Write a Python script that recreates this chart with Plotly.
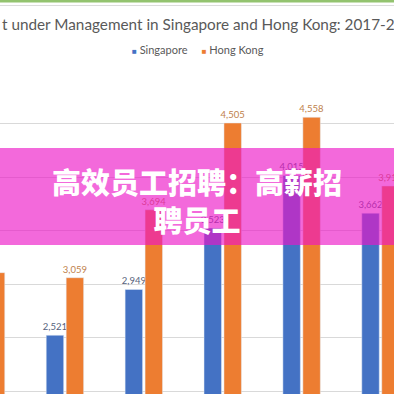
import plotly.graph_objects as go

# ---- data ----
categories = ["2017", "2018", "2019", "2020", "2021", "2022"]
singapore = [2350, 2521, 2949, 3523, 4015, 3662]
hong_kong = [3106, 3059, 3694, 4505, 4558, 3916]
series_names = ["Singapore", "Hong Kong"]
grid_values = [2000, 2500, 3000, 3500, 4000, 4500, 5000]
title_text = "t under Management in Singapore and Hong Kong: 2017-2"
banner_text = "高效员工招聘：高薪招<br>聘员工"

BLUE = "#4472C4"
ORANGE = "#ED7D31"

W, H = 394, 394
TOP, BOTTOM = 70, 0
PH = H - TOP - BOTTOM


def py(p):
    """pixel row (from top) -> paper y"""
    return (H - BOTTOM - p) / PH


fig = go.Figure()
fig.add_bar(x=categories, y=singapore, name=series_names[0], marker_color=BLUE,
            texttemplate="%{y:,}", textposition="outside", cliponaxis=False,
            textfont=dict(family="Lato", size=9.5, color="#56627c"),
            showlegend=False)
fig.add_bar(x=categories, y=hong_kong, name=series_names[1], marker_color=ORANGE,
            texttemplate="%{y:,}", textposition="outside", cliponaxis=False,
            textfont=dict(family="Lato", size=9.5, color="#c0814c"),
            showlegend=False)

fig.update_layout(
    width=W, height=H,
    margin=dict(l=0, r=0, t=TOP, b=BOTTOM, pad=0),
    paper_bgcolor="white", plot_bgcolor="white",
    barmode="group", bargap=0.494, bargroupgap=0.125,
    uniformtext=dict(minsize=9.5, mode="show"),
    xaxis=dict(type="category", categoryorder="array", categoryarray=categories,
               range=[0.177, 5.171], showticklabels=False, showgrid=False,
               zeroline=False, showline=False, ticks=""),
    yaxis=dict(range=[1972, 5000], tickvals=grid_values, showticklabels=False,
               gridcolor="#d9d9d9", gridwidth=1, zeroline=False, showline=False,
               ticks=""),
    font=dict(family="Lato", color="#595959"),
)

shapes = [
    dict(type="rect", xref="paper", yref="paper", x0=0, x1=1,
         y0=py(2.6), y1=py(0), fillcolor="#93c36f", line_width=0, layer="above"),
    dict(type="line", xref="paper", yref="paper", x0=0, x1=1,
         y0=py(5.5), y1=py(5.5), line=dict(color="#dcdcdc", width=1), layer="above"),
    dict(type="rect", xref="paper", yref="paper", x0=0, x1=1,
         y0=py(245), y1=py(148), fillcolor="rgba(237,21,198,0.64)",
         line_width=0, layer="above"),
]
fig.update_layout(shapes=shapes)

legend_text = (f"<span style='color:{BLUE};font-size:8px'>■</span> {series_names[0]}"
               f"     <span style='color:{ORANGE};font-size:8px'>■</span> {series_names[1]}")

fig.add_annotation(text=title_text, xref="paper", yref="paper", x=0, y=py(24),
                   xanchor="left", yanchor="middle", showarrow=False,
                   font=dict(family="Lato", size=15.3, color="#595959"))
fig.add_annotation(text=legend_text, xref="paper", yref="paper", x=0.502, y=py(50),
                   xanchor="center", yanchor="middle", showarrow=False,
                   font=dict(family="Lato", size=11, color="#595959"))
fig.add_annotation(text=banner_text, xref="paper", yref="paper", x=0.5, y=py(200),
                   xanchor="center", yanchor="middle", showarrow=False, align="center",
                   font=dict(family="Noto Sans CJK SC", size=29, color="white", weight=900))

fig.write_html("out.html",
               config={"displayModeBar": False},
               post_script="document.body.style.margin='0';"
                           "document.documentElement.style.overflow='hidden';"
                           "document.body.style.overflow='hidden';")
